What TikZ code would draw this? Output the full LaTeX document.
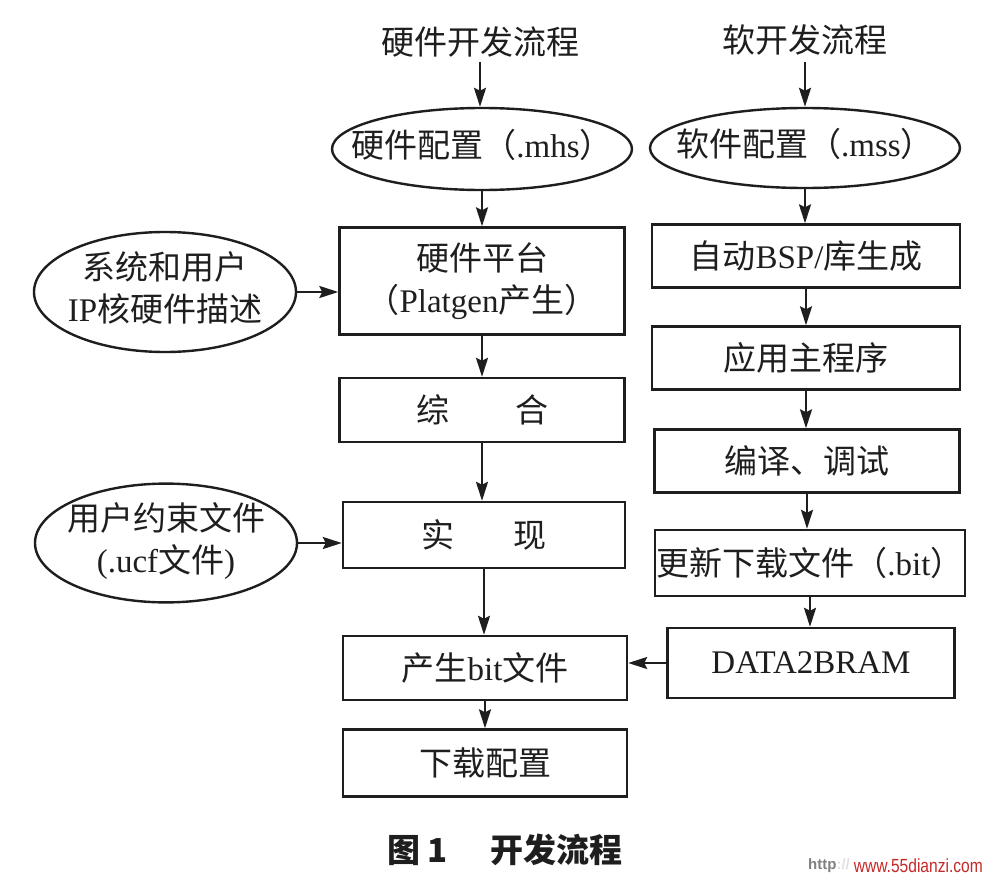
\documentclass[tikz,border=0pt]{standalone}
\usepackage{fontspec}
\setmainfont{Liberation Serif}
\newfontfamily\cjk{Noto Sans CJK SC}
\newfontfamily\wmfont{Liberation Sans}
\usetikzlibrary{shapes.geometric,arrows.meta}
\definecolor{ink}{HTML}{1E1E1E}
\definecolor{wmred}{HTML}{C62828}
\newcommand\zbox[1]{\makebox[0pt]{\begin{tabular}{@{}c@{}}#1\end{tabular}}}
\begin{document}
\begin{tikzpicture}[x=1pt,y=-1pt,
  every node/.style={font=\fontsize{33}{42}\selectfont, text=ink},
  ell/.style={draw=ink, line width=2.4pt, ellipse, inner sep=0pt},
  bx/.style={draw=ink, line width=2.4pt, rectangle, inner sep=0pt, align=center},
  arr/.style={draw=ink, line width=2.4pt, -{Stealth[length=19pt,width=12pt,inset=3pt]}},
  ttl/.style={inner sep=0pt}
]
\useasboundingbox[fill=white] (0,0) rectangle (988,878);

% titles
\node[ttl] (hwt) at (480,42) {\cjk 硬件开发流程};
\node[ttl] (swt) at (805,40) {\cjk 软开发流程};

% left column
\node[ell, minimum width=300pt, minimum height=82pt] (e1) at (482,149) {\zbox{{\cjk 硬件配置（}.mhs{\cjk ）}}};
\node[bx, minimum width=285pt, minimum height=107pt] (hp) at (482,281) {{\cjk 硬件平台}\\{\cjk （}Platgen{\cjk 产生）}};
\node[ell, minimum width=262pt, minimum height=120pt] (sys) at (165,292) {\zbox{{\cjk 系统和用户}\\IP{\cjk 核硬件描述}}};
\node[bx, minimum width=285pt, minimum height=64pt] (zh) at (482,410) {\cjk 综\hspace{2em}合};
\node[bx, minimum width=282pt, minimum height=66pt] (sx) at (484,535) {\cjk 实\hspace{1.8em}现};
\node[ell, minimum width=262pt, minimum height=112pt] (ucf) at (166,543) {\zbox{{\cjk 用户约束文件}\\(.ucf{\cjk 文件})}};
\node[bx, minimum width=284pt, minimum height=64pt] (bit) at (485,668) {{\cjk 产生}bit{\cjk 文件}};
\node[bx, minimum width=284pt, minimum height=67pt] (dl) at (485,763) {\cjk 下载配置};

% right column
\node[ell, minimum width=310pt, minimum height=80pt] (e2) at (805,148) {\zbox{{\cjk 软件配置（}.mss{\cjk ）}}};
\node[bx, minimum width=308pt, minimum height=63pt] (bsp) at (806,256) {{\cjk 自动}BSP/{\cjk 库生成}};
\node[bx, minimum width=308pt, minimum height=63pt] (app) at (806,358) {\cjk 应用主程序};
\node[bx, minimum width=305pt, minimum height=63pt] (cmp) at (807,461) {\cjk 编译、调试};
\node[bx, minimum width=310pt, minimum height=66pt] (upd) at (810,563) {{\cjk 更新下载文件（}.bit{\cjk ）}};
\node[bx, minimum width=287pt, minimum height=70pt] (d2b) at (811,663) {DATA2BRAM};

% left arrows
\draw[arr] (hwt.south) ++(0,4) coordinate (hwts) -- (hwts |- e1.north);
\draw[arr] (e1.south) -- (e1.south |- hp.north);
\draw[arr] (hp.south) -- (hp.south |- zh.north);
\draw[arr] (zh.south) -- (zh.south |- sx.north);
\draw[arr] (sx.south) -- (sx.south |- bit.north);
\draw[arr] (bit.south) -- (bit.south |- dl.north);
\draw[arr] (sys.east) -- (sys.east -| hp.west);
\draw[arr] (ucf.east) -- (ucf.east -| sx.west);

% right arrows
\draw[arr] (swt.south) ++(0,6) coordinate (swts) -- (swts |- e2.north);
\draw[arr] (e2.south) -- (e2.south |- bsp.north);
\draw[arr] (bsp.south) -- (bsp.south |- app.north);
\draw[arr] (app.south) -- (app.south |- cmp.north);
\draw[arr] (cmp.south) -- (cmp.south |- upd.north);
\draw[arr] (upd.south) -- (upd.south |- d2b.north);
\draw[arr] (d2b.west) -- (d2b.west -| bit.east);

% caption
\node[ttl, font=\fontsize{33}{40}\selectfont] (cap) at (505,850) {\cjk\bfseries 图 1\hspace{1.3em}开发流程};

% watermark
\node[ttl, anchor=west, font=\wmfont\bfseries\fontsize{15}{18}\selectfont, text=gray] (wm1) at (808,866) {http\textcolor{black!12}{://}};
\node[ttl, anchor=east, font=\wmfont\fontsize{19}{22}\selectfont, text=wmred, xscale=0.82] (wm2) at (983,866) {www.55dianzi.com};
\end{tikzpicture}
\end{document}
